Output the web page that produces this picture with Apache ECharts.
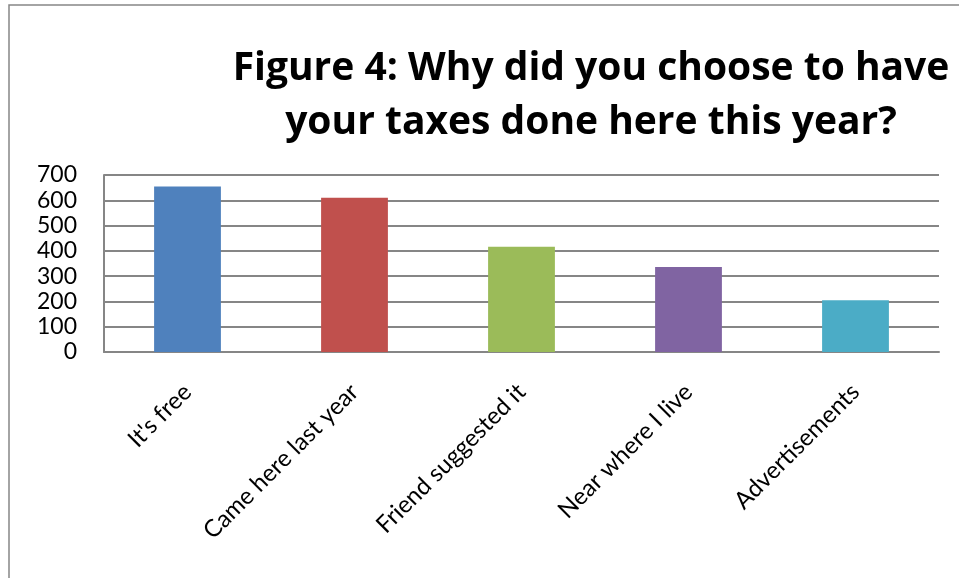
<!DOCTYPE html>
<html>
<head>
<meta charset="utf-8">
<script src="https://cdn.jsdelivr.net/npm/echarts@6/dist/echarts.min.js"></script>
<style>
  html, body { margin: 0; padding: 0; background: #ffffff; }
  #chart { width: 959px; height: 578px; }
</style>
</head>
<body>
<div id="chart"></div>
<script>
// Survey answers and counts
const categories = ['It\'s free', 'Came here last year', 'Friend suggested it', 'Near where I live', 'Advertisements'];
const counts = [655, 610, 416, 336, 205];
const barColors = ['#4F81BD', '#C0504D', '#9BBB59', '#8064A2', '#4BACC6'];
const yTicks = { min: 0, max: 700, step: 100 };
const titleText = 'Figure 4: Why did you choose to have\nyour taxes done here this year?';

const chart = echarts.init(document.getElementById('chart'), null, { renderer: 'canvas' });

chart.setOption({
  backgroundColor: '#ffffff',
  animation: false,
  title: {
    text: titleText,
    left: 586,
    top: 37,
    textAlign: 'center',
    textStyle: {
      fontFamily: 'Open Sans',
      fontWeight: 'bold',
      fontSize: 39,
      lineHeight: 54,
      color: '#000000'
    }
  },
  graphic: [{
    type: 'rect',
    silent: true,
    shape: { x: 9, y: 5, width: 1200, height: 1200 },
    style: { fill: 'none', stroke: '#868686', lineWidth: 1.5 }
  }],
  grid: { left: 104, right: 20, top: 175, bottom: 226, containLabel: false },
  xAxis: {
    type: 'category',
    data: categories,
    axisLine: { show: true, lineStyle: { color: '#868686', width: 2 } },
    axisTick: { show: false },
    axisLabel: {
      rotate: 45,
      margin: 36,
      interval: 0,
      fontFamily: 'Lato',
      fontSize: 24,
      color: '#000000'
    }
  },
  yAxis: {
    type: 'value',
    min: yTicks.min,
    max: yTicks.max,
    interval: yTicks.step,
    axisLine: { show: true, lineStyle: { color: '#868686', width: 2 } },
    axisTick: { show: false },
    splitLine: { show: true, lineStyle: { color: '#868686', width: 2 } },
    axisLabel: {
      margin: 27,
      fontFamily: 'Lato',
      fontSize: 23,
      color: '#000000'
    }
  },
  series: [{
    type: 'bar',
    data: counts.map((v, i) => ({ value: v, itemStyle: { color: barColors[i] } })),
    barWidth: '40%'
  }]
});
</script>
</body>
</html>
